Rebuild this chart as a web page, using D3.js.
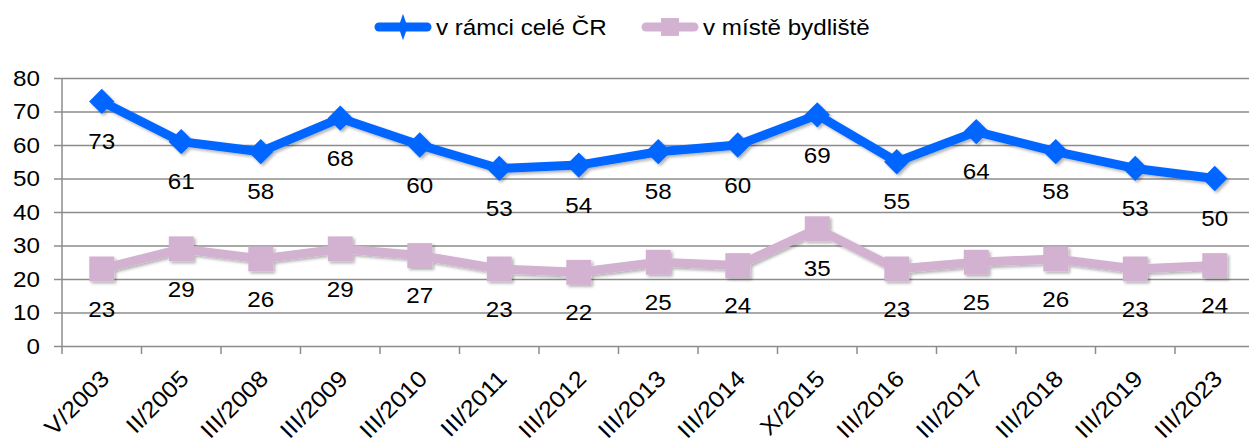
<!DOCTYPE html>
<html>
<head>
<meta charset="utf-8">
<script src="https://cdn.jsdelivr.net/npm/d3@7"></script>
<style>
  body { margin: 0; background: #fff; }
  svg { display: block; font-family: "Liberation Sans", Arial, sans-serif; }
</style>
</head>
<body>
<div id="chart"></div>
<script>
// survey waves
var categories = ["V/2003", "II/2005", "III/2008", "III/2009", "III/2010", "III/2011", "III/2012",
    "III/2013", "III/2014", "X/2015", "III/2016", "III/2017", "III/2018", "III/2019", "III/2023"];
var celeCR = [73, 61, 58, 68, 60, 53, 54, 58, 60, 69, 55, 64, 58, 53, 50];
var bydliste = [23, 29, 26, 29, 27, 23, 22, 25, 24, 35, 23, 25, 26, 23, 24];
var yTicks = [0, 10, 20, 30, 40, 50, 60, 70, 80];
var seriesNames = ["v rámci celé ČR", "v místě bydliště"];

var width = 1249, height = 439;
var margin = { left: 62, top: 78, bottom: 93 };
var gridColor = "#8c8c8c";
var blue = "#0066ff", pink = "#d3b1d1";
var stretch = 1.1;   // text in the original is a bit wider than Arial

var svg = d3.select("#chart").append("svg")
    .attr("width", width)
    .attr("height", height);

var defs = svg.append("defs");
defs.append("filter")
    .attr("id", "shadow")
    .attr("x", "-20%").attr("y", "-20%")
    .attr("width", "140%").attr("height", "140%")
  .append("feDropShadow")
    .attr("dx", 2).attr("dy", 2)
    .attr("stdDeviation", 1.5)
    .attr("flood-color", "#000")
    .attr("flood-opacity", 0.3);

var x = d3.scaleBand()
    .domain(categories)
    .range([margin.left, margin.left + 15 * 79.5]);

var y = d3.scaleLinear()
    .domain([0, 80])
    .range([height - margin.bottom, margin.top]);

// gridlines + y axis
var yAxis = svg.append("g")
    .attr("transform", "translate(" + margin.left + ",0)")
    .call(d3.axisLeft(y).tickValues(yTicks).tickSize(8).tickPadding(10));
yAxis.select(".domain").remove();
yAxis.selectAll(".tick line").attr("stroke", gridColor).attr("stroke-width", 1.5);
yAxis.selectAll(".tick").append("line")
    .attr("x1", 0).attr("x2", width - margin.left)
    .attr("stroke", gridColor).attr("stroke-width", 1.5);
yAxis.selectAll(".tick text")
    .attr("font-size", "22px")
    .attr("fill", "#000")
    .attr("font-family", "Liberation Sans, Arial, sans-serif")
    .attr("x", -22 / stretch)
    .attr("transform", "scale(" + stretch + ",1)");

svg.append("line")
    .attr("x1", margin.left).attr("x2", margin.left)
    .attr("y1", y(80)).attr("y2", y(0))
    .attr("stroke", gridColor).attr("stroke-width", 1.5);

// x ticks at band boundaries
var xAxis = svg.append("g");
xAxis.selectAll("line.xt")
    .data(categories)
    .enter().append("line")
    .attr("class", "xt")
    .attr("x1", function(d){ return x(d); })
    .attr("x2", function(d){ return x(d); })
    .attr("y1", y(0)).attr("y2", y(0) + 8)
    .attr("stroke", gridColor).attr("stroke-width", 1.5);

xAxis.selectAll("text")
    .data(categories)
    .enter().append("text")
    .attr("text-anchor", "end")
    .attr("font-size", "23px")
    .attr("transform", function(d){
        var cx = x(d) + x.bandwidth() / 2 + 9;
        return "translate(" + cx + "," + (y(0) + 34) + ") rotate(-45) scale(" + stretch + ",1)";
    })
    .text(function(d){ return d; });

// series
var series = [
    { name: seriesNames[0], values: celeCR, color: blue, rot: 45, size: 320 },
    { name: seriesNames[1], values: bydliste, color: pink, rot: 0, size: 620 }
];

var line = d3.line()
    .x(function(d, i){ return x(categories[i]) + x.bandwidth() / 2; })
    .y(function(d){ return y(d); });

series.forEach(function(s){
    var g = svg.append("g").attr("filter", "url(#shadow)");
    g.append("path")
        .datum(s.values)
        .attr("fill", "none")
        .attr("stroke", s.color)
        .attr("stroke-width", 9)
        .attr("stroke-linejoin", "round")
        .attr("d", line);
    g.selectAll("path.marker")
        .data(s.values)
        .enter().append("path")
        .attr("class", "marker")
        .attr("fill", s.color)
        .attr("transform", function(d, i){
            return "translate(" + (x(categories[i]) + x.bandwidth() / 2) + "," + y(d) + ") rotate(" + s.rot + ")";
        })
        .attr("d", d3.symbol().type(d3.symbolSquare).size(s.size));

    svg.append("g").selectAll("text")
        .data(s.values)
        .enter().append("text")
        .attr("text-anchor", "middle")
        .attr("font-size", "22px")
        .attr("transform", function(d, i){
            return "translate(" + (x(categories[i]) + x.bandwidth() / 2) + "," + (y(d) + 40) + ") scale(" + stretch + ",1)";
        })
        .attr("dy", "0.35em")
        .text(function(d){ return d; });
});

// legend
var legendX = [375, 642];
series.forEach(function(s, i){
    var lg = svg.append("g").attr("transform", "translate(" + legendX[i] + ",27)");
    lg.append("line")
        .attr("x1", 4).attr("x2", 52)
        .attr("stroke", s.color)
        .attr("stroke-width", 9)
        .attr("stroke-linecap", "round");
    lg.append("path")
        .attr("fill", s.color)
        .attr("transform", "translate(28,0)" + (i === 0 ? " scale(0.6,1)" : ""))
        .attr("d", d3.symbol().type(i === 0 ? d3.symbolDiamond : d3.symbolSquare).size(i === 0 ? 200 : 320));
    lg.append("text")
        .attr("transform", "translate(61,0) scale(" + stretch + ",1)")
        .attr("dy", "0.35em")
        .attr("font-size", "22px")
        .text(s.name);
});
</script>
</body>
</html>
